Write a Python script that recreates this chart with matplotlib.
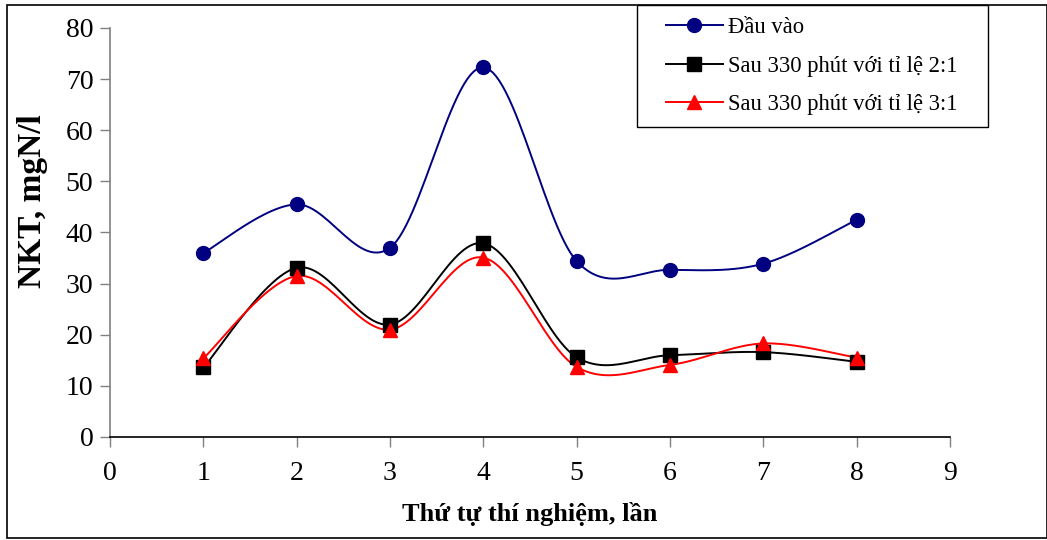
import numpy as np
import matplotlib
matplotlib.use("Agg")
import matplotlib.pyplot as plt
from matplotlib.patches import Rectangle

plt.rcParams['font.family'] = ['Liberation Serif', 'DejaVu Serif']

x_vals = [1, 2, 3, 4, 5, 6, 7, 8]
dau_vao = [36.0, 45.5, 37.0, 72.3, 34.4, 32.7, 33.9, 42.5]
sau_2_1 = [13.6, 33.1, 22.0, 37.9, 15.6, 16.0, 16.6, 14.7]
sau_3_1 = [15.4, 31.5, 21.0, 35.1, 13.7, 14.1, 18.3, 15.5]

labels = ["Đầu vào", "Sau 330 phút với tỉ lệ 2:1", "Sau 330 phút với tỉ lệ 3:1"]
colors = ["#000080", "#000000", "#FF0000"]
markers = ["o", "s", "^"]


def smooth(xs, ys, n=30):
    xs = np.asarray(xs, float)
    ys = np.asarray(ys, float)
    P = np.column_stack([xs, ys])
    out = []
    for i in range(len(P) - 1):
        p0 = P[i - 1] if i > 0 else P[i]
        p1 = P[i]
        p2 = P[i + 1]
        p3 = P[i + 2] if i + 2 < len(P) else P[i + 1]
        c1 = p1 + (p2 - p0) / 6.0
        c2 = p2 - (p3 - p1) / 6.0
        t = np.linspace(0, 1, n)[:, None]
        seg = ((1 - t) ** 3) * p1 + 3 * ((1 - t) ** 2) * t * c1 + 3 * (1 - t) * t ** 2 * c2 + t ** 3 * p2
        if i > 0:
            seg = seg[1:]
        out.append(seg)
    arr = np.vstack(out)
    return arr[:, 0], arr[:, 1]


W, H = 1047, 540
fig = plt.figure(figsize=(W / 100, H / 100), dpi=100)
ax = fig.add_axes([110 / W, 1 - 437 / H, 840 / W, 409 / H])

series = [dau_vao, sau_2_1, sau_3_1]
msizes = [10, 9.5, 10]
handles = []
for ys, lab, c, m, ms in zip(series, labels, colors, markers, msizes):
    sx, sy = smooth(x_vals, ys)
    ax.plot(sx, sy, color=c, lw=1.4, zorder=2)
    ax.plot(x_vals, ys, linestyle='none', marker=m, color=c, markersize=ms, zorder=3)
    h, = ax.plot([], [], color=c, lw=1.4, marker=m, markersize=ms, label=lab)
    handles.append(h)

ax.set_xlim(0, 9)
ax.set_ylim(0, 80)
ax.set_xticks(range(0, 10))
ax.set_yticks(range(0, 81, 10))
for s in ['top', 'right']:
    ax.spines[s].set_visible(False)
ax.spines['left'].set_color('#808080')
ax.spines['left'].set_linewidth(1.2)
ax.spines['bottom'].set_color('#000000')
ax.spines['bottom'].set_linewidth(1.2)
ax.tick_params(axis='y', direction='out', length=7, width=1, colors='#808080', labelcolor='black', labelsize=20, pad=5)
ax.tick_params(axis='x', direction='out', length=7, width=1, colors='#808080', labelcolor='black', labelsize=20, pad=10)

ax.set_ylabel("NKT, mgN/l", fontsize=24, fontweight='bold')
ax.yaxis.set_label_coords(-0.074, 0.577)
ax.set_xlabel("Thứ tự thí nghiệm, lần", fontsize=19, fontweight='bold', labelpad=12)

# legend frame
fig.patches.append(Rectangle((637 / W, 1 - 127 / H), (988 - 637) / W, (127 - 5) / H,
                             transform=fig.transFigure, fill=False, edgecolor='black', lw=1.0, zorder=5))
leg = fig.legend(handles=handles, loc='upper left', bbox_to_anchor=(666 / W, 1 - 17 / H),
                 fontsize=16.3, frameon=False,
                 borderpad=0.0, labelspacing=0.78, handlelength=2.5, handletextpad=0.25,
                 borderaxespad=0)

fig.patches.append(Rectangle((7 / W, 2 / H), 1 - 7 / W, 1 - 7 / H, transform=fig.transFigure,
                             fill=False, edgecolor='black', lw=1.2))

fig.savefig("out.png", dpi=100)
